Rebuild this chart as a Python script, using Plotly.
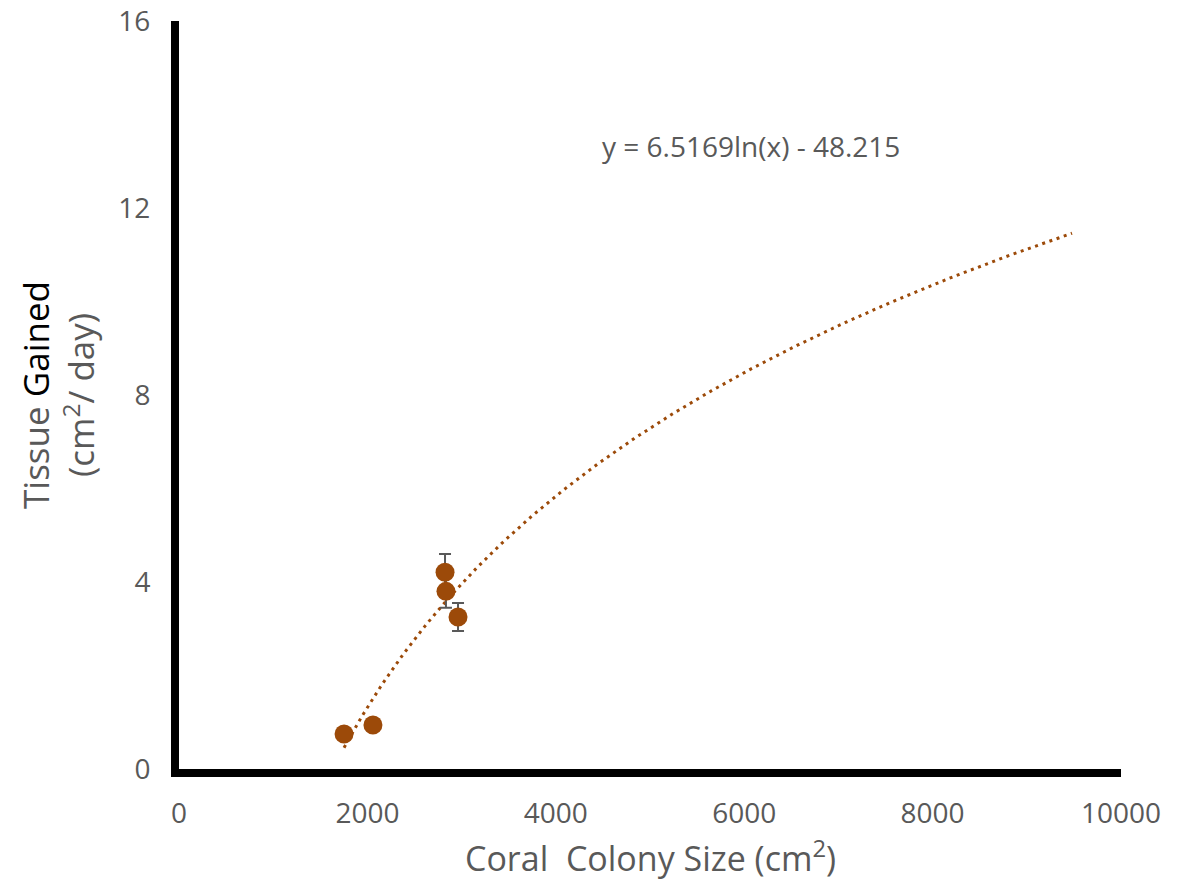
import numpy as np
import plotly.graph_objects as go

# Data
colony_size = [1752, 2059, 2824, 2834, 2962]          # cm^2
tissue_gained = [0.75, 0.94, 4.21, 3.80, 3.25]         # cm^2 / day
tissue_err = [0.0, 0.0, 0.39, 0.35, 0.30]

# Logarithmic trendline as displayed on the chart
trend_a = 6.5169
trend_b = -48.215
trend_x_start = 1752
trend_x_end = 9480

x_ticks = [0, 2000, 4000, 6000, 8000, 10000]
y_ticks = [0, 4, 8, 12, 16]

brown = "#9C4A09"
gray = "#595959"
font_family = "Open Sans, Liberation Sans, sans-serif"

tx = np.linspace(trend_x_start, trend_x_end, 300)
ty = trend_a * np.log(tx) + trend_b

fig = go.Figure()
fig.add_trace(go.Scatter(
    x=tx, y=ty, mode="lines",
    line=dict(color=brown, width=3, dash="3px,4.6px"),
    hoverinfo="skip", showlegend=False,
))
fig.add_trace(go.Scatter(
    x=colony_size, y=tissue_gained, mode="markers",
    marker=dict(color=brown, size=19),
    error_y=dict(type="data", array=tissue_err, visible=True,
                 color=gray, thickness=2, width=6),
    showlegend=False,
))

fig.update_layout(
    width=1178, height=884,
    margin=dict(l=179, r=57, t=21, b=115, autoexpand=False),
    paper_bgcolor="white", plot_bgcolor="white",
    font=dict(family=font_family, color=gray),
    xaxis=dict(
        range=[0, 10000], tickvals=x_ticks, ticktext=[str(v) for v in x_ticks],
        showgrid=False, zeroline=False, showline=True, linecolor="black",
        linewidth=8, ticks="", ticklabelstandoff=12, automargin=False,
        tickfont=dict(size=28, color=gray, family=font_family),
    ),
    yaxis=dict(
        range=[0, 16], tickvals=y_ticks, ticktext=[str(v) for v in y_ticks],
        showgrid=False, zeroline=False, showline=True, linecolor="black",
        linewidth=8, ticks="", ticklabelstandoff=15, automargin=False,
        tickfont=dict(size=28, color=gray, family=font_family),
    ),
    annotations=[
        dict(
            text="y = 6.5169ln(x) - 48.215",
            x=6072, y=13.33, xref="x", yref="y", showarrow=False,
            font=dict(size=28, color=gray, family=font_family),
            xanchor="center", yanchor="middle",
        ),
        dict(
            text="Coral\u00a0 Colony Size (cm<sup>2</sup>)",
            x=0.501, y=-0.117, xref="paper", yref="paper", showarrow=False,
            font=dict(size=34, color=gray, family=font_family),
            xanchor="center", yanchor="middle",
        ),
        dict(
            text="<span style='color:#595959'>Tissue</span> <span style='color:#000000'>Gained</span><br>(cm<sup>2</sup>/ day)",
            x=-0.1285, y=0.5, xref="paper", yref="paper", showarrow=False,
            textangle=-90,
            font=dict(size=35, color=gray, family=font_family),
            xanchor="center", yanchor="middle",
        ),
    ],
)

fig.write_html("out.html")
